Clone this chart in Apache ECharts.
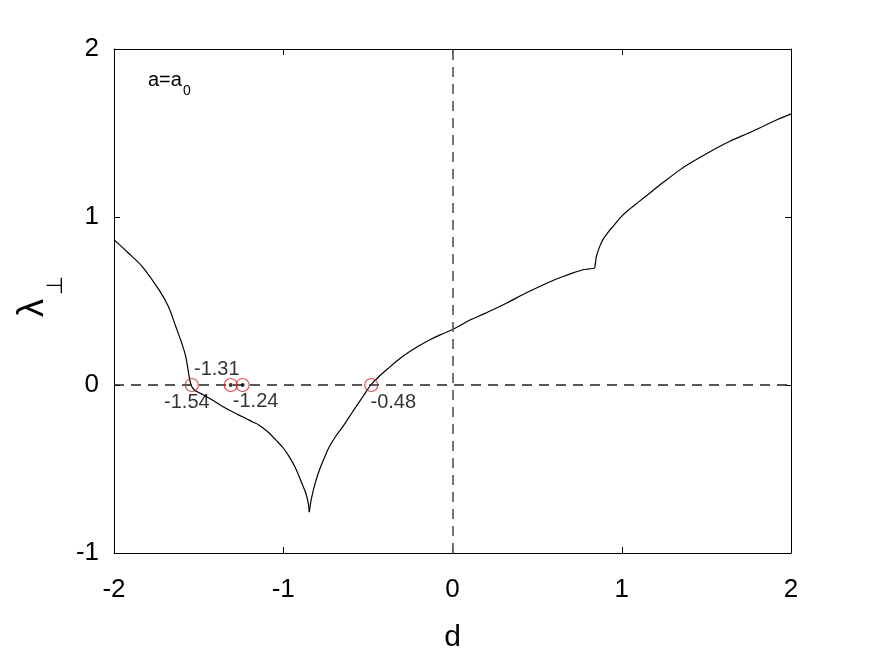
<!DOCTYPE html>
<html>
<head>
<meta charset="utf-8">
<script src="https://cdn.jsdelivr.net/npm/echarts@6/dist/echarts.min.js"></script>
<style>html,body{margin:0;padding:0;background:#fff;}#c{width:875px;height:656px;}</style>
</head>
<body>
<div id="c"></div>
<script>
// d values and lambda_perp values of the curve
var dVals = [-2.00,-1.92,-1.833,-1.734,-1.68,-1.635,-1.60,-1.576,-1.556,-1.545,-1.53,-1.50,-1.46,-1.419,-1.37,-1.32,-1.27,-1.221,-1.18,-1.142,-1.09,-1.043,-1.00,-0.964,-0.93,-0.905,-0.88,-0.866,-0.853,-0.846,-0.838,-0.827,-0.81,-0.787,-0.76,-0.728,-0.69,-0.649,-0.61,-0.57,-0.53,-0.483,-0.44,-0.373,-0.32,-0.274,-0.20,-0.136,-0.07,0.0,0.1,0.2,0.318,0.42,0.515,0.6,0.653,0.72,0.771,0.80,0.84,0.845,0.85,0.87,0.889,0.92,0.949,1.0,1.05,1.1,1.15,1.244,1.35,1.441,1.55,1.639,1.75,1.836,1.92,2.0];
var lamVals = [0.865,0.79,0.705,0.566,0.47,0.348,0.25,0.169,0.05,0.0,-0.025,-0.045,-0.065,-0.089,-0.12,-0.149,-0.175,-0.199,-0.22,-0.239,-0.28,-0.328,-0.375,-0.428,-0.49,-0.547,-0.61,-0.646,-0.70,-0.757,-0.70,-0.646,-0.58,-0.507,-0.44,-0.368,-0.305,-0.249,-0.19,-0.129,-0.07,0.0,0.045,0.105,0.15,0.185,0.232,0.268,0.30,0.33,0.385,0.43,0.487,0.54,0.586,0.625,0.646,0.67,0.686,0.69,0.695,0.73,0.765,0.825,0.865,0.91,0.944,1.005,1.05,1.09,1.13,1.205,1.285,1.342,1.405,1.451,1.50,1.540,1.58,1.614];
// d values where the curve has a corner (cusp / kinks)
var breakD = [-1.545, -0.846, 0.84];
// zero crossings marked with red circles
var crossD = [-1.54,-1.31,-1.24,-0.48];
var crossLabels = ['-1.54','-1.31','-1.24','-0.48'];
var dottedD = [-1.31,-1.24];
var xTicks = [-2,-1,0,1,2];
var yTicks = [-1,0,1,2];

var FONT = 'Liberation Sans, Arial, sans-serif';
// split the curve into smooth pieces at the corners
var segments = [];
var cur = [];
dVals.forEach(function(d,i){
  cur.push([d, lamVals[i]]);
  if (breakD.indexOf(d) >= 0) { segments.push(cur); cur = [[d, lamVals[i]]]; }
});
segments.push(cur);

var labelOffsets = [[-5,17],[-14,-16],[13,16],[22,17]];
var crossData = crossD.map(function(d,i){
  return {value:[d,0], label:{show:true, formatter:crossLabels[i], offset:labelOffsets[i]}};
});
var dotData = dottedD.map(function(d){return [d,0];});

var chart = echarts.init(document.getElementById('c'), null, {renderer:'canvas'});
var axBase = {
  min:-2, max:2, interval:1, type:'value',
  axisLine:{show:true, onZero:false, lineStyle:{color:'#000', width:1}},
  axisTick:{show:true, inside:true, length:6, lineStyle:{color:'#000'}},
  splitLine:{show:false}
};
var series = segments.map(function(seg, k){
  var s = {type:'line', data:seg, showSymbol:false, symbol:'none', smooth:0.35,
     lineStyle:{color:'#000', width:1.2}, z:3};
  if (k === 0) {
    s.markLine = {silent:true, symbol:['none','none'], label:{show:false},
       data:[
         {yAxis:0, lineStyle:{color:'#222', type:[10,7], width:1.5}},
         {xAxis:0, lineStyle:{color:'#666', type:[10,7], width:1.8}}
       ]};
  }
  return s;
});
series.push(
  {type:'scatter', data:crossData, symbol:'circle', symbolSize:13, z:5,
   itemStyle:{color:'rgba(0,0,0,0)', borderColor:'#e02020', borderWidth:1.2},
   label:{fontFamily:FONT, fontSize:20, color:'#000', position:'inside'}},
  {type:'scatter', data:dotData, symbol:'circle', symbolSize:4, z:6,
   itemStyle:{color:'#000'}}
);
chart.setOption({
  animation:false,
  backgroundColor:'#fff',
  grid:{left:114, right:84, top:49, bottom:103, containLabel:false, outerBoundsMode:'none'},
  xAxis:[
    Object.assign({}, axBase, {position:'bottom', name:'d', nameLocation:'middle', nameGap:70,
      nameTextStyle:{fontFamily:FONT, fontSize:30, color:'#000'},
      axisLabel:{show:true, margin:24, fontFamily:FONT, fontSize:26, color:'#000'}}),
    Object.assign({}, axBase, {position:'top', axisLabel:{show:false}})
  ],
  yAxis:[
    Object.assign({}, axBase, {min:-1, max:2, position:'left',
      axisLabel:{show:true, margin:15, fontFamily:FONT, fontSize:26, color:'#000'}}),
    Object.assign({}, axBase, {min:-1, max:2, position:'right', axisLabel:{show:false}})
  ],
  series:series,
  graphic:[
    {type:'text', x:148, y:80, style:{text:'a=a', font:'20px '+FONT, fill:'#000', textAlign:'left', textVerticalAlign:'middle', verticalAlign:'middle'}},
    {type:'text', x:183, y:91, style:{text:'0', font:'14px '+FONT, fill:'#000', textAlign:'left', textVerticalAlign:'middle', verticalAlign:'middle'}},
    {type:'text', x:33.5, y:308, rotation:Math.PI/2, style:{text:'λ', font:'36px '+FONT, fill:'#000', textAlign:'center', textVerticalAlign:'middle', verticalAlign:'middle'}},
    {type:'text', x:55.5, y:285, rotation:Math.PI/2, style:{text:'⊥', font:'22px '+FONT, fill:'#000', textAlign:'center', textVerticalAlign:'middle', verticalAlign:'middle'}}
  ]
});
</script>
</body>
</html>
